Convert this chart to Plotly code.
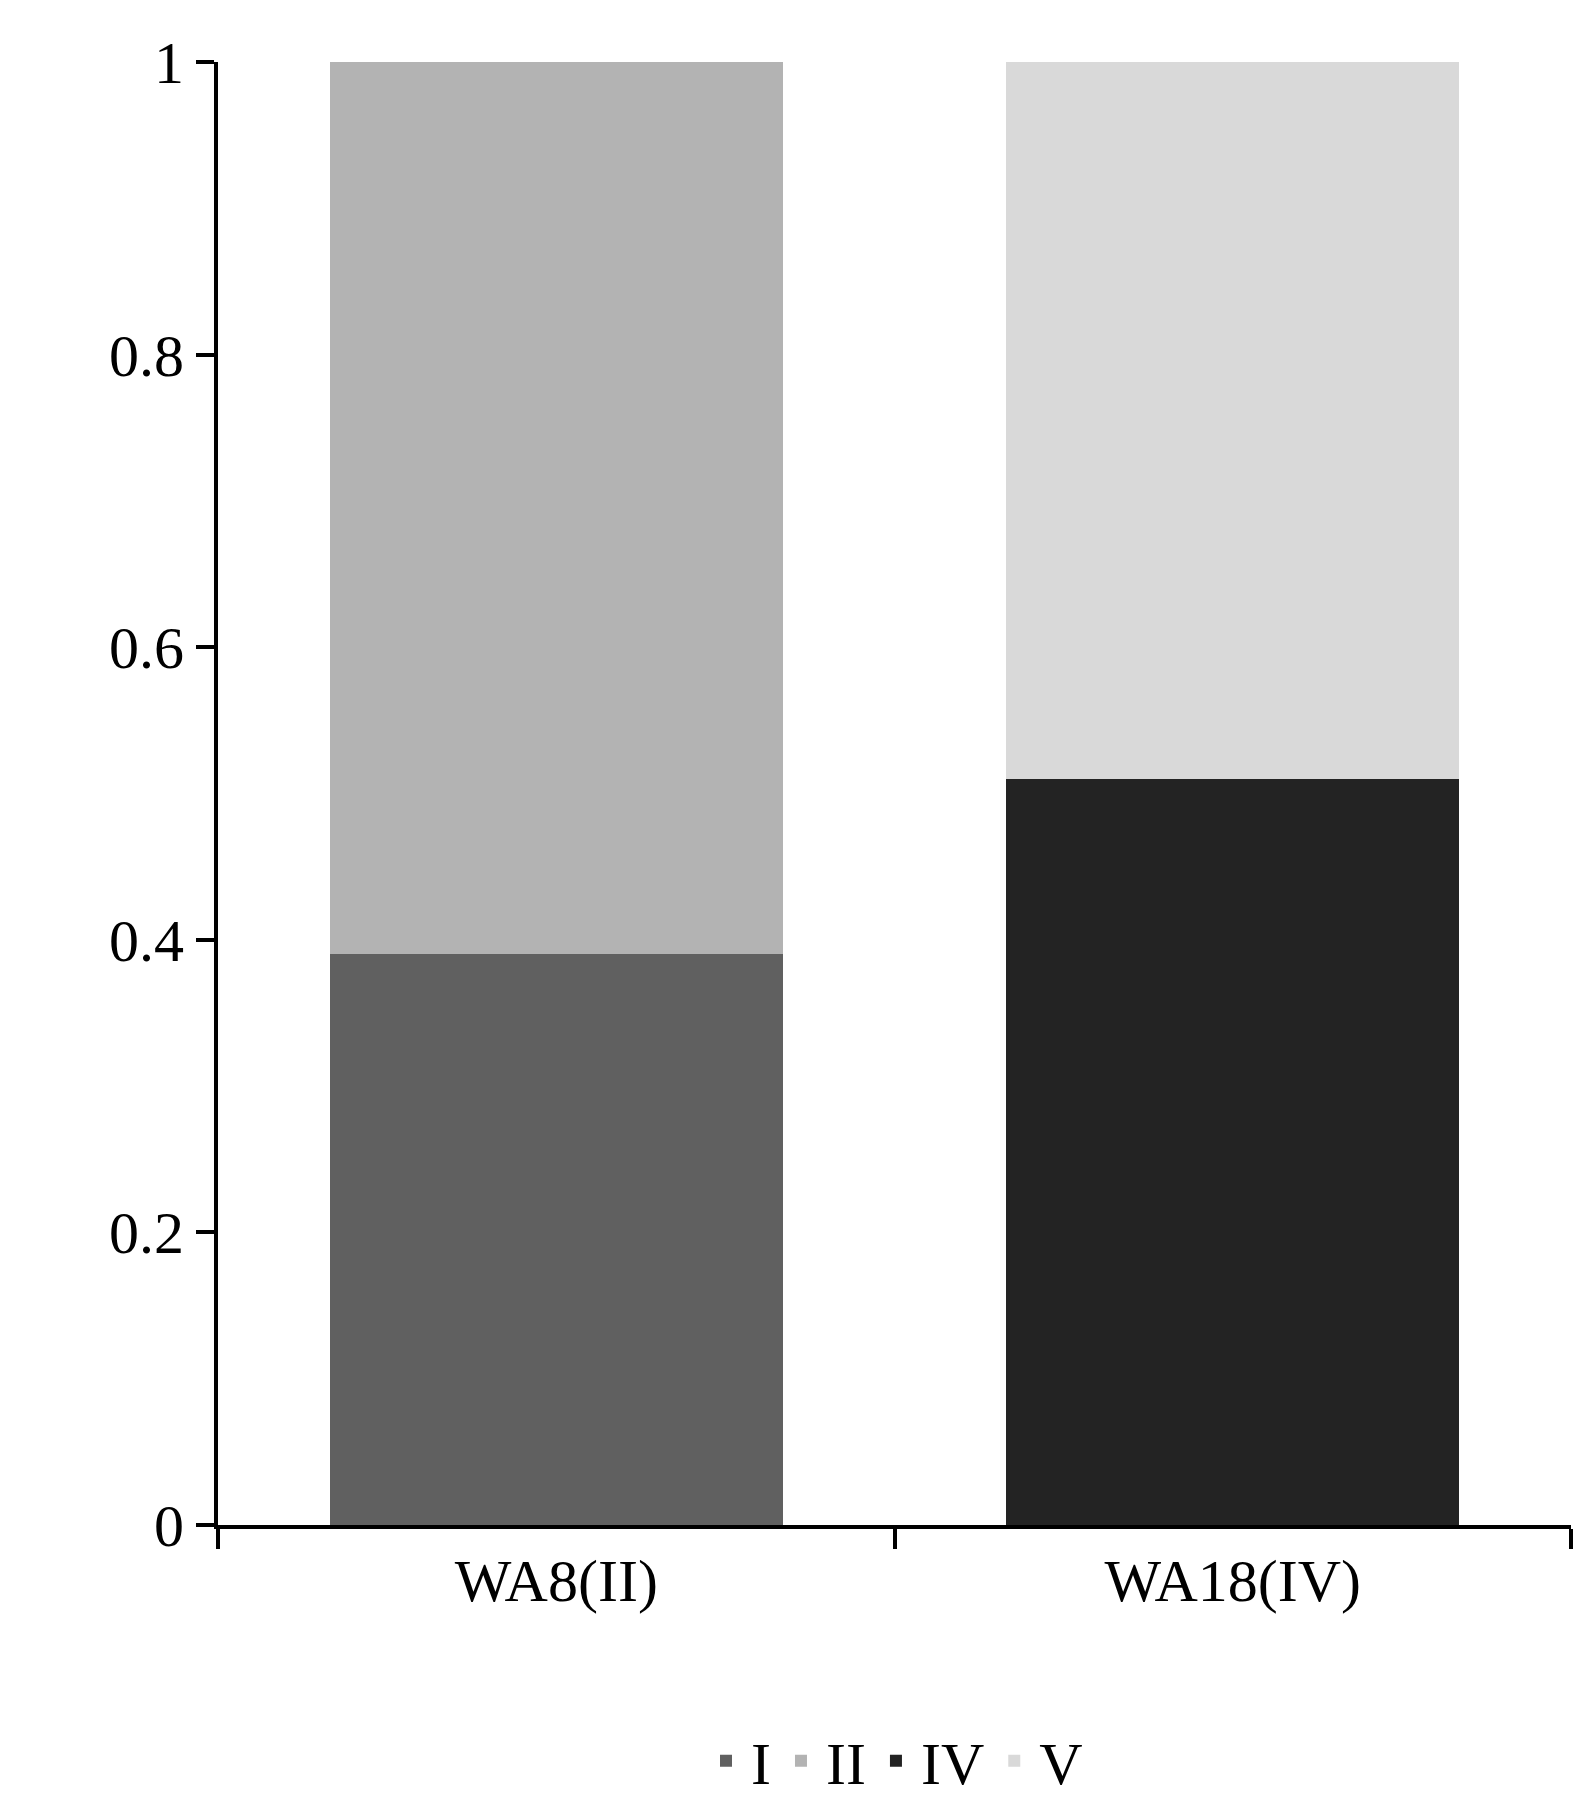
import plotly.graph_objects as go

categories = ["WA8(II)", "WA18(IV)"]
series_names = ["I", "II", "IV", "V"]
values_I = [0.39, 0]
values_II = [0.61, 0]
values_IV = [0, 0.51]
values_V = [0, 0.49]
colors = ["#606060", "#b3b3b3", "#232323", "#d9d9d9"]

fig = go.Figure()
for name, vals, c in zip(series_names, [values_I, values_II, values_IV, values_V], colors):
    fig.add_bar(x=categories, y=vals, name=name, marker_color=c, marker_line_width=0, width=0.67)

font = dict(family="Liberation Serif, Times New Roman, serif", size=60, color="black")
fig.update_layout(
    barmode="stack", width=1587, height=1814,
    paper_bgcolor="white", plot_bgcolor="white",
    margin=dict(l=210, r=24, t=54, b=297),
    font=font,
    legend=dict(orientation="h", x=0.5, xanchor="center", y=-0.13, yanchor="top",
                font=dict(size=60), itemwidth=40, traceorder="normal"),
    bargap=0.33,
)
fig.update_xaxes(showline=True, linecolor="black", linewidth=4, ticks="outside",
                 tickson="boundaries", ticklen=20, tickwidth=4, tickcolor="black",
                 tickfont=dict(size=60))
fig.update_yaxes(range=[0, 1], dtick=0.2, showline=True, linecolor="black", linewidth=4,
                 ticks="outside", ticklen=18, tickwidth=4, tickcolor="black",
                 showgrid=False, zeroline=False, tickformat="~g", tickfont=dict(size=60))
fig.write_html("out.html")
